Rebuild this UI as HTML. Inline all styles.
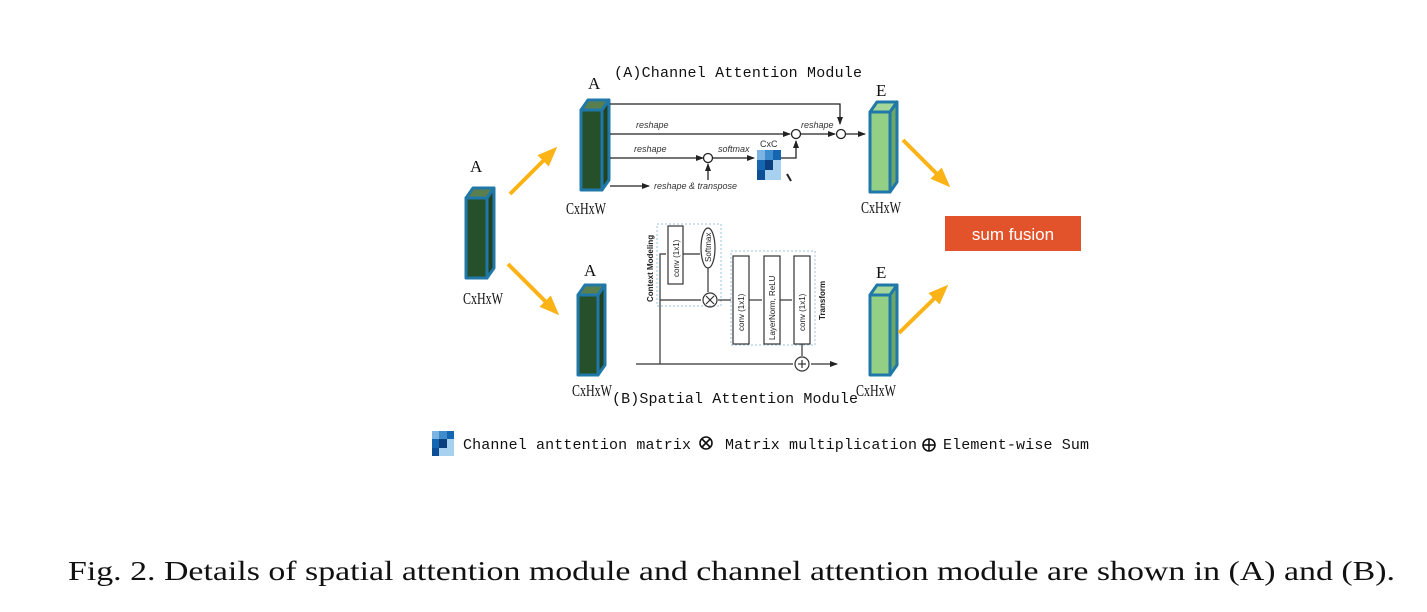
<!DOCTYPE html>
<html><head><meta charset="utf-8"><style>
html,body{margin:0;padding:0;background:#fff;width:1427px;height:612px;overflow:hidden}
svg{display:block}
.m{font-family:"Liberation Mono",monospace;font-size:15px;fill:#111}
.s{font-family:"Liberation Serif",serif;font-size:17px;fill:#111}
.it{font-family:"Liberation Sans",sans-serif;font-size:9px;font-style:italic;fill:#333}
.sm{font-family:"Liberation Sans",sans-serif;font-size:9px;fill:#333}
</style></head><body>
<svg width="1427" height="612" viewBox="0 0 1427 612" xmlns="http://www.w3.org/2000/svg">
<defs>
<marker id="oa" markerWidth="20" markerHeight="20" refX="14" refY="10" orient="auto" markerUnits="userSpaceOnUse" viewBox="0 0 20 20"><path d="M0,2 L20,10 L0,18 z" fill="#fbb316"/></marker>
<marker id="ka" markerWidth="8" markerHeight="8" refX="7" refY="4" orient="auto" markerUnits="userSpaceOnUse" viewBox="0 0 8 8"><path d="M0,1 L8,4 L0,7 z" fill="#222"/></marker>
</defs>

<g stroke="#1f78a8" stroke-width="3" stroke-linejoin="round">
 <polygon points="466,198 473,188 494,188 487,198" fill="#5a7f4f"/>
 <polygon points="487,198 494,188 494,268 487,278" fill="#23421f"/>
 <rect x="466" y="198" width="21" height="80" fill="#26502a"/>
 <polygon points="581,110 588,100 609,100 602,110" fill="#5a7f4f"/>
 <polygon points="602,110 609,100 609,180 602,190" fill="#23421f"/>
 <rect x="581" y="110" width="21" height="80" fill="#26502a"/>
 <polygon points="578,295 585,285 605,285 598,295" fill="#5a7f4f"/>
 <polygon points="598,295 605,285 605,365 598,375" fill="#23421f"/>
 <rect x="578" y="295" width="20" height="80" fill="#26502a"/>
 <polygon points="870,112 877,102 897,102 890,112" fill="#a5d79a"/>
 <polygon points="890,112 897,102 897,182 890,192" fill="#6ea665"/>
 <rect x="870" y="112" width="20" height="80" fill="#94cf86"/>
 <polygon points="870,295 877,285 897,285 890,295" fill="#a5d79a"/>
 <polygon points="890,295 897,285 897,365 890,375" fill="#6ea665"/>
 <rect x="870" y="295" width="20" height="80" fill="#94cf86"/>
</g>

<g stroke="#fbb316" stroke-width="4" marker-end="url(#oa)">
<line x1="510" y1="194" x2="553" y2="151"/>
<line x1="508" y1="264" x2="555" y2="311"/>
<line x1="903" y1="140" x2="946" y2="183"/>
<line x1="899" y1="333" x2="944" y2="289"/>
</g>

<rect x="945" y="216" width="136" height="35" fill="#e2532b"/>
<text x="1013" y="240" text-anchor="middle" font-family="Liberation Sans,sans-serif" font-size="17" fill="#fff">sum fusion</text>

<text x="470" y="172" class="s">A</text>
<text x="588" y="89" class="s">A</text>
<text x="584" y="276" class="s">A</text>
<text x="876" y="96" class="s">E</text>
<text x="876" y="278" class="s">E</text>
<text x="463" y="304" class="s" textLength="40" lengthAdjust="spacingAndGlyphs">CxHxW</text>
<text x="566" y="214" class="s" textLength="40" lengthAdjust="spacingAndGlyphs">CxHxW</text>
<text x="572" y="396" class="s" textLength="40" lengthAdjust="spacingAndGlyphs">CxHxW</text>
<text x="861" y="213" class="s" textLength="40" lengthAdjust="spacingAndGlyphs">CxHxW</text>
<text x="856" y="396" class="s" textLength="40" lengthAdjust="spacingAndGlyphs">CxHxW</text>
<text x="614" y="77" class="m" textLength="248">(A)Channel Attention Module</text>
<text x="612" y="403" class="m" textLength="246">(B)Spatial Attention Module</text>

<g stroke="#222" stroke-width="1.3" fill="none">
<polyline points="610,104 840,104 840,124" marker-end="url(#ka)"/>
<line x1="610" y1="134" x2="790" y2="134" marker-end="url(#ka)"/>
<line x1="801" y1="134" x2="835" y2="134" marker-end="url(#ka)"/>
<line x1="846" y1="134" x2="865" y2="134" marker-end="url(#ka)"/>
<line x1="610" y1="158" x2="703" y2="158" marker-end="url(#ka)"/>
<line x1="713" y1="158" x2="754" y2="158" marker-end="url(#ka)"/>
<polyline points="778,158 796,158 796,141" marker-end="url(#ka)"/>
<line x1="708" y1="180" x2="708" y2="164" marker-end="url(#ka)"/>
<line x1="610" y1="186" x2="649" y2="186" marker-end="url(#ka)"/>
<circle cx="796" cy="134" r="4.5"/>
<circle cx="841" cy="134" r="4.5"/>
<circle cx="708" cy="158" r="4.5"/>
</g>
<text x="636" y="128" class="it">reshape</text>
<text x="634" y="152" class="it">reshape</text>
<text x="718" y="152" class="it">softmax</text>
<text x="801" y="128" class="it">reshape</text>
<text x="654" y="189" class="it">reshape &amp; transpose</text>
<text x="760" y="147" class="sm">CxC</text>
<g>
<rect x="757" y="150" width="24" height="30" fill="#a8d0ef"/>
<rect x="757" y="150" width="8" height="10" fill="#7bb4e2"/>
<rect x="765" y="150" width="8" height="10" fill="#3f8ccd"/>
<rect x="773" y="150" width="8" height="10" fill="#1566b0"/>
<rect x="765" y="160" width="8" height="10" fill="#0c3f7e"/>
<rect x="757" y="160" width="8" height="10" fill="#1566b0"/>
<rect x="757" y="170" width="8" height="10" fill="#0c4f96"/>
</g>
<line x1="787" y1="174" x2="791" y2="181" stroke="#222" stroke-width="2"/>

<g stroke="#9cc3df" stroke-width="1" stroke-dasharray="2,2" fill="none">
<rect x="657" y="224" width="64" height="82"/>
<rect x="731" y="251" width="84" height="94"/>
</g>
<g stroke="#333" stroke-width="1.2" fill="none">
<rect x="668" y="226" width="15" height="58"/>
<ellipse cx="708" cy="248" rx="7" ry="20"/>
<rect x="733" y="256" width="16" height="88"/>
<rect x="764" y="256" width="16" height="88"/>
<rect x="794" y="256" width="16" height="88"/>
<circle cx="710" cy="300" r="7"/>
<circle cx="802" cy="364" r="7"/>
<line x1="636" y1="364" x2="793" y2="364"/>
<line x1="811" y1="364" x2="837" y2="364" marker-end="url(#ka)"/>
<polyline points="660,364 660,254 666,254"/>
<line x1="660" y1="300" x2="701" y2="300"/>
<line x1="683" y1="254" x2="700" y2="254"/>
<line x1="708" y1="268" x2="708" y2="292"/>
<line x1="718" y1="300" x2="731" y2="300"/>
<line x1="749" y1="300" x2="762" y2="300"/>
<line x1="780" y1="300" x2="792" y2="300"/>
<line x1="802" y1="344" x2="802" y2="356"/>
<line x1="798" y1="364" x2="806" y2="364"/>
<line x1="802" y1="360" x2="802" y2="368"/>
<line x1="706" y1="296" x2="714" y2="304"/><line x1="714" y1="296" x2="706" y2="304"/>
</g>
<g font-family="Liberation Sans,sans-serif" font-size="8" fill="#222">
<text transform="translate(679,277) rotate(-90)">conv (1x1)</text>
<text transform="translate(711,262) rotate(-90)">Softmax</text>
<text transform="translate(744,331) rotate(-90)">conv (1x1)</text>
<text transform="translate(775,340) rotate(-90)">LayerNorm, ReLU</text>
<text transform="translate(805,331) rotate(-90)">conv (1x1)</text>
<text transform="translate(653,302) rotate(-90)" font-weight="bold">Context Modeling</text>
<text transform="translate(825,320) rotate(-90)" font-weight="bold">Transform</text>
</g>

<g>
<rect x="432" y="431" width="22" height="25" fill="#a8d0ef"/>
<rect x="432" y="431" width="7" height="8" fill="#7bb4e2"/>
<rect x="439" y="431" width="8" height="8" fill="#3f8ccd"/>
<rect x="447" y="431" width="7" height="8" fill="#1566b0"/>
<rect x="439" y="439" width="8" height="9" fill="#0c3f7e"/>
<rect x="432" y="439" width="7" height="9" fill="#1566b0"/>
<rect x="432" y="448" width="7" height="8" fill="#0c4f96"/>
</g>
<text x="463" y="449" class="m" textLength="228">Channel anttention matrix</text>
<g stroke="#111" stroke-width="1.6" fill="none">
<circle cx="706" cy="443" r="6"/>
<line x1="702" y1="439" x2="710" y2="447"/><line x1="710" y1="439" x2="702" y2="447"/>
<circle cx="929" cy="445" r="6"/>
<line x1="923" y1="445" x2="935" y2="445"/><line x1="929" y1="439" x2="929" y2="451"/>
</g>
<text x="725" y="449" class="m" textLength="192">Matrix multiplication</text>
<text x="943" y="449" class="m" textLength="146">Element-wise Sum</text>

<text x="68" y="580" font-family="Liberation Serif,serif" font-size="27" fill="#111" textLength="1327" lengthAdjust="spacingAndGlyphs">Fig. 2. Details of spatial attention module and channel attention module are shown in (A) and (B).</text>
</svg>
</body></html>
